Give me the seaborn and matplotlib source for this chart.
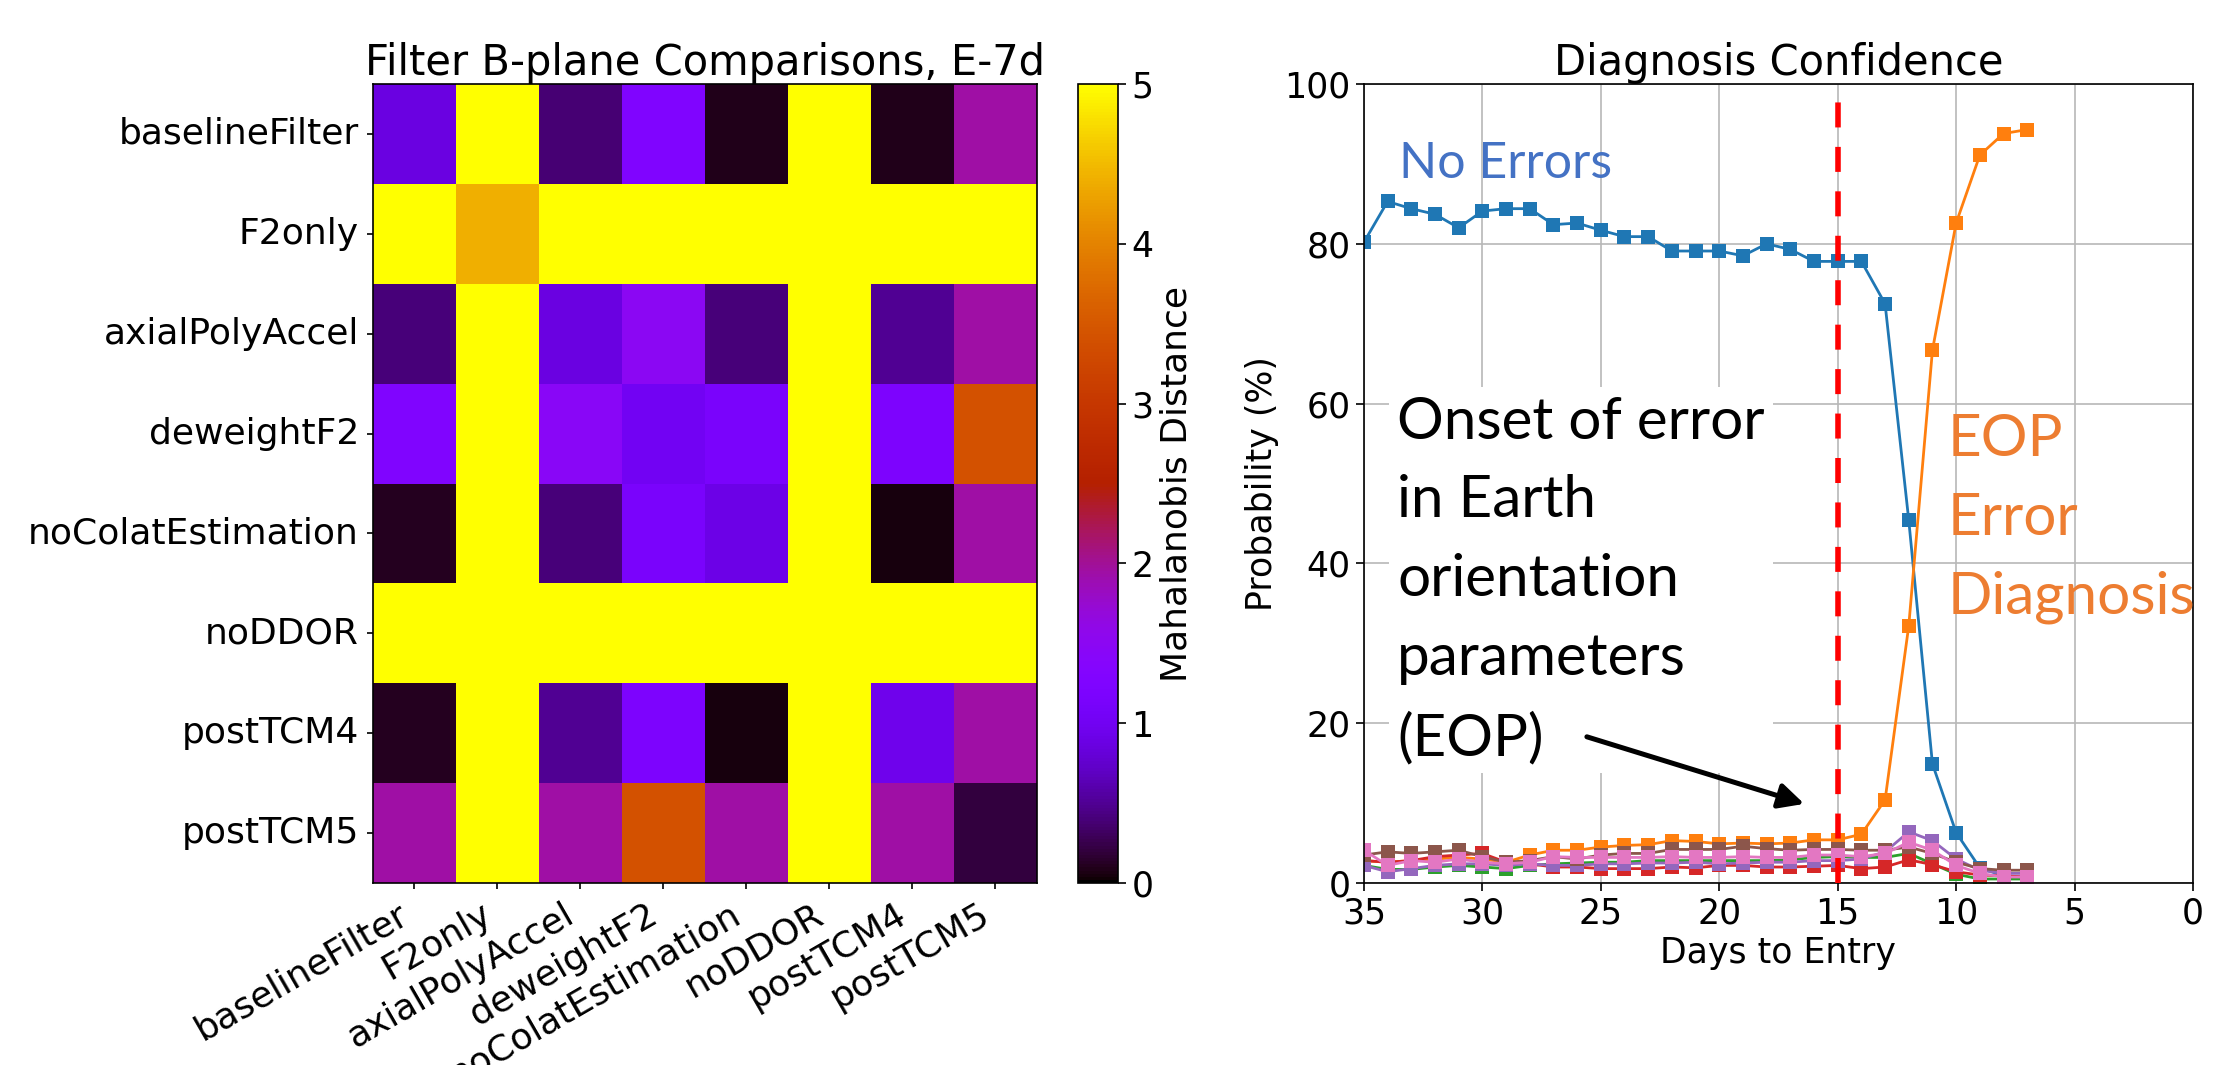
import matplotlib
matplotlib.use("Agg")
import matplotlib.pyplot as plt
import seaborn as sns
import pandas as pd

# filter names for the B-plane comparison matrix
filters = ["baselineFilter", "F2only", "axialPolyAccel", "deweightF2",
           "noColatEstimation", "noDDOR", "postTCM4", "postTCM5"]

# Mahalanobis distance between filter pairs (clipped at 5 by colour scale)
distances = [
    [0.87, 5.0, 0.38, 1.25, 0.08, 5.0, 0.08, 1.95],
    [5.0, 4.4, 5.0, 5.0, 5.0, 5.0, 5.0, 5.0],
    [0.40, 5.0, 0.87, 1.50, 0.40, 5.0, 0.50, 1.95],
    [1.25, 5.0, 1.45, 1.00, 1.15, 5.0, 1.20, 3.40],
    [0.10, 5.0, 0.40, 1.15, 0.90, 5.0, 0.05, 1.95],
    [5.0, 5.0, 5.0, 5.0, 5.0, 5.0, 5.0, 5.0],
    [0.10, 5.0, 0.50, 1.20, 0.05, 5.0, 0.95, 1.95],
    [1.95, 5.0, 1.95, 3.40, 1.95, 5.0, 1.95, 0.20],
]

# diagnosis confidence time series
days = list(range(35, 6, -1))
no_errors = [80.2, 85.3, 84.4, 83.7, 82.0, 84.1, 84.4, 84.4, 82.4, 82.6,
             81.7, 80.9, 80.9, 79.1, 79.1, 79.1, 78.5, 80.0, 79.3, 77.8,
             77.8, 77.8, 72.5, 45.4, 14.9, 6.3, 1.9, 0.9, 0.7]
eop_error = [2.8, 2.6, 2.8, 3.0, 3.2, 3.0, 2.6, 3.5, 4.1, 4.1,
             4.5, 4.7, 4.8, 5.3, 5.2, 4.9, 5.0, 4.9, 5.0, 5.4,
             5.4, 6.1, 10.4, 32.2, 66.7, 82.6, 91.1, 93.8, 94.3]
hyp_green = [2.2, 1.7, 1.7, 2.0, 2.2, 2.0, 1.8, 2.2, 2.4, 2.5,
             2.6, 2.6, 2.8, 2.8, 2.8, 2.8, 2.8, 2.8, 2.9, 3.2,
             3.3, 3.2, 3.2, 3.7, 2.4, 1.1, 0.5, 0.5, 0.5]
hyp_red = [2.8, 2.6, 2.8, 3.3, 3.5, 3.7, 2.6, 2.4, 2.0, 2.0,
           1.8, 1.8, 1.8, 2.0, 1.9, 2.2, 2.2, 2.0, 2.0, 2.1,
           2.2, 1.8, 2.0, 2.9, 2.3, 1.4, 1.0, 0.9, 0.75]
hyp_purple = [2.2, 1.4, 1.8, 2.2, 2.4, 2.4, 2.2, 2.4, 2.2, 2.2,
              2.4, 2.4, 2.5, 2.5, 2.6, 2.4, 2.5, 2.6, 2.6, 2.8,
              2.8, 3.0, 3.9, 6.4, 5.3, 3.0, 1.6, 1.2, 1.2]
hyp_brown = [3.5, 3.9, 3.7, 3.9, 4.1, 3.3, 2.6, 2.8, 3.3, 3.0,
             3.5, 3.7, 3.7, 4.2, 4.2, 4.2, 4.6, 4.3, 4.1, 4.2,
             4.2, 4.1, 4.1, 4.5, 3.7, 2.6, 1.8, 1.6, 1.6]
hyp_pink = [4.1, 2.2, 2.8, 2.6, 3.0, 2.6, 2.4, 2.6, 3.3, 3.2,
            3.2, 3.2, 3.2, 3.3, 3.2, 3.2, 3.3, 3.2, 3.2, 3.5,
            3.5, 3.3, 3.7, 5.1, 4.1, 2.2, 1.2, 0.75, 0.75]

fs = 25
fig = plt.figure(figsize=(22.33, 10.65), dpi=100)
plt.rcParams["font.size"] = fs

# ---- left: heatmap
ax1 = fig.add_axes([0.1670, 0.1709, 0.2974, 0.7502])
cax = fig.add_axes([0.4828, 0.1709, 0.0179, 0.7502])
dist_df = pd.DataFrame(distances, index=filters, columns=filters)
sns.heatmap(dist_df, ax=ax1, cbar_ax=cax, cmap="gnuplot", vmin=0, vmax=5,
            cbar_kws={"label": "Mahalanobis Distance"})
for s in ax1.spines.values():
    s.set_visible(True)
    s.set_linewidth(1.2)
cbar = ax1.collections[0].colorbar
cbar.outline.set_visible(True)
cbar.outline.set_linewidth(1.2)
cbar.ax.tick_params(labelsize=fs, length=6, width=1.2)
cbar.set_label("Mahalanobis Distance", fontsize=26)
ax1.tick_params(labelsize=26, length=4, width=1.2, pad=6)
ax1.set_yticklabels(filters, rotation=0)
ax1.set_xticklabels(filters, rotation=30, ha="right")
ax1.set_title("Filter B-plane Comparisons, E-7d", fontsize=30)

# ---- right: diagnosis confidence
ax2 = fig.add_axes([0.6108, 0.1709, 0.3713, 0.7502])
conf = pd.DataFrame({"days": days, "No Errors": no_errors, "EOP": eop_error,
                     "h3": hyp_green, "h4": hyp_red, "h5": hyp_purple,
                     "h6": hyp_brown, "h7": hyp_pink})
palette = sns.color_palette("tab10")
for i, col in enumerate(["No Errors", "EOP", "h3", "h4", "h5", "h6", "h7"]):
    sns.lineplot(data=conf, x="days", y=col, ax=ax2, color=palette[i],
                 marker="s", markersize=10, markeredgewidth=0, linewidth=2)
ax2.axvline(15, color="red", linewidth=4, dashes=(4.5, 3.5), zorder=5)
ax2.set_xlim(35, 0)
ax2.set_ylim(0, 100)
ax2.set_xticks([35, 30, 25, 20, 15, 10, 5, 0])
ax2.set_yticks([0, 20, 40, 60, 80, 100])
ax2.grid(True, color="#b8b8b8", linewidth=1.2)
ax2.set_axisbelow(True)
ax2.tick_params(labelsize=fs, length=6, width=1.2)
for s in ax2.spines.values():
    s.set_linewidth(1.2)
ax2.set_xlabel("Days to Entry", fontsize=fs)
ax2.set_ylabel("Probability (%)", fontsize=fs)
ax2.set_title("Diagnosis Confidence", fontsize=30)

ann_font = ["Lato", "DejaVu Sans"]
ax2.text(33.5, 88.2, "No Errors", color="#4472c4", fontsize=36,
         family=ann_font, ha="left", va="baseline")
ax2.text(33.6, 61.0, "Onset of error\nin Earth\norientation\nparameters\n(EOP)",
         color="black", fontsize=42, family=ann_font, ha="left", va="top",
         linespacing=1.6, zorder=4,
         bbox=dict(facecolor="white", edgecolor="none", pad=6))
ax2.text(10.35, 58.8, "EOP\nError\nDiagnosis", color="#ed7d31", fontsize=42,
         family=ann_font, ha="left", va="top", linespacing=1.6)
ax2.annotate("", xy=(16.3, 9.8), xytext=(25.7, 18.4),
             arrowprops=dict(arrowstyle="-|>", color="black", lw=3.6,
                             mutation_scale=38), zorder=6)

fig.savefig("out.png", dpi=100)
